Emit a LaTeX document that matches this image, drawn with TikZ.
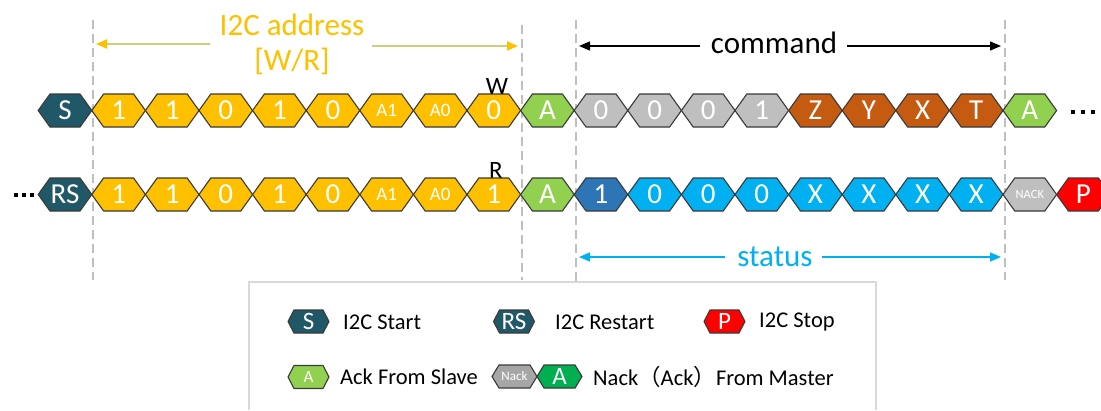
\documentclass[tikz,border=0pt]{standalone}
\usepackage{fontspec}
\setmainfont{Carlito}
\newfontfamily\cjk{Noto Sans CJK SC}
\usetikzlibrary{arrows.meta}
\definecolor{cteal}{HTML}{215868}
\definecolor{cyel}{HTML}{FFC000}
\definecolor{cgreen}{HTML}{92D050}
\definecolor{cdgreen}{HTML}{00B050}
\definecolor{cgray}{HTML}{BFBFBF}
\definecolor{cdgray}{HTML}{A6A6A6}
\definecolor{corange}{HTML}{C55A11}
\definecolor{cdblue}{HTML}{2E75B6}
\definecolor{clblue}{HTML}{00B0F0}
\definecolor{cred}{HTML}{FF0000}
\definecolor{hexdraw}{HTML}{3A3A3A}
\definecolor{dashcol}{HTML}{BFBFBF}
\definecolor{addrline}{HTML}{C9D27A}
\definecolor{boxcol}{HTML}{D9D9D9}
\newcommand\hexnode[9]{%
  \draw[hexline, fill=#7] (#2-#4,#3) -- (#2-#4+#6,#3-#5) -- (#2+#4-#6,#3-#5) -- (#2+#4,#3) -- (#2+#4-#6,#3+#5) -- (#2-#4+#6,#3+#5) -- cycle;
  \node[#8] (#1) at (#2,#3) {#9};}
\begin{document}
\begin{tikzpicture}[x=1pt,y=-1pt,
  hexline/.style={draw=hexdraw, line width=1.1pt, line join=miter},
  hbig/.style={text=white, inner sep=0pt, font=\fontsize{29}{29}\selectfont},
  hmid/.style={text=white, inner sep=0pt, font=\fontsize{19}{19}\selectfont},
  hsml/.style={text=white, inner sep=0pt, font=\fontsize{12.5}{12.5}\selectfont},
  lbig/.style={text=white, inner sep=0pt, font=\fontsize{25}{25}\selectfont},
  lmid/.style={text=white, inner sep=0pt, font=\fontsize{17}{17}\selectfont},
  lsml/.style={text=white, inner sep=0pt, font=\fontsize{13}{13}\selectfont},
  legtxt/.style={anchor=west, inner sep=0pt, font=\fontsize{22.5}{22.5}\selectfont},
  bigtxt/.style={anchor=base, inner sep=0pt, font=\fontsize{31}{31}\selectfont},
  bitlbl/.style={inner sep=0pt, font=\fontsize{25}{25}\selectfont},
  dashln/.style={draw=dashcol, line width=2pt, dash pattern=on 9pt off 5pt},
  addrarr/.style={draw=addrline, line width=2pt, -{Triangle[length=11pt,width=9pt,color=cyel]}},
  cmdarr/.style={draw=black, line width=1.4pt, -{Triangle[length=11pt,width=9pt]}},
  statarr/.style={draw=clblue, line width=1.4pt, -{Triangle[length=11pt,width=9pt]}},
  dot/.style={rectangle, fill=black, inner sep=0pt, minimum size=4.4pt}]
\useasboundingbox (0,0) rectangle (1101,410);
\fill[white] (0,0) rectangle (1101,410);
% dashed guides
\draw[dashln] (92.5,20) -- (92.5,280);
\draw[dashln] (521.5,25) -- (521.5,280);
\draw[dashln] (575.5,20) -- (575.5,282);
\draw[dashln] (1005,20) -- (1005,280);
% top annotations
\node[bigtxt, text=cyel] (addr1) at (292,35) {I2C address};
\node[bigtxt, text=cyel] (addr2) at (292,70) {[W/R]};
\coordinate (addrLs) at (210,44); \coordinate (addrLe) at (96,44);
\coordinate (addrRs) at (372,46); \coordinate (addrRe) at (518,46);
\draw[addrarr] (addrLs) -- (addrLe);
\draw[addrarr] (addrRs) -- (addrRe);
\node[bigtxt] (cmd) at (774,53) {command};
\coordinate (cmdLs) at (700,46); \coordinate (cmdLe) at (579,46);
\coordinate (cmdRs) at (847,46); \coordinate (cmdRe) at (1001,46);
\draw[cmdarr] (cmdLs) -- (cmdLe);
\draw[cmdarr] (cmdRs) -- (cmdRe);
\node[bigtxt, text=clblue] (stat) at (775,266) {status};
\coordinate (stLs) at (725,257); \coordinate (stLe) at (579,257);
\coordinate (stRs) at (822,257); \coordinate (stRe) at (1001,257);
\draw[statarr] (stLs) -- (stLe);
\draw[statarr] (stRs) -- (stRe);
% W / R labels
\node[bitlbl] (wlbl) at (497,86) {W};
\node[bitlbl] (rlbl) at (496,170) {R};
% top row
\foreach \i/\c/\t/\s in {0/cteal/S/hbig, 1/cyel/1/hbig, 2/cyel/1/hbig, 3/cyel/0/hbig, 4/cyel/1/hbig, 5/cyel/0/hbig, 6/cyel/A1/hmid, 7/cyel/A0/hmid, 8/cyel/0/hbig, 9/cgreen/A/hbig, 10/cgray/0/hbig, 11/cgray/0/hbig, 12/cgray/0/hbig, 13/cgray/1/hbig, 14/corange/Z/hbig, 15/corange/Y/hbig, 16/corange/X/hbig, 17/corange/T/hbig, 18/cgreen/A/hbig}
{\pgfmathsetmacro\cx{65+\i*53.6}
 \hexnode{t\i}{\cx}{110.5}{26.8}{16.5}{11.8}{\c}{\s}{\t}}
% bottom row
\foreach \i/\c/\t/\s in {0/cteal/RS/hbig, 1/cyel/1/hbig, 2/cyel/1/hbig, 3/cyel/0/hbig, 4/cyel/1/hbig, 5/cyel/0/hbig, 6/cyel/A1/hmid, 7/cyel/A0/hmid, 8/cyel/1/hbig, 9/cgreen/A/hbig, 10/cdblue/1/hbig, 11/clblue/0/hbig, 12/clblue/0/hbig, 13/clblue/0/hbig, 14/clblue/X/hbig, 15/clblue/X/hbig, 16/clblue/X/hbig, 17/clblue/X/hbig, 18/cgray/NACK/hsml, 19/cred/P/hbig}
{\pgfmathsetmacro\cx{65+\i*53.6}
 \hexnode{b\i}{\cx}{194.5}{26.8}{16.5}{11.8}{\c}{\s}{\t}}
% dots
\node[dot] (d1) at (1073,112) {}; \node[dot] (d2) at (1083,112) {}; \node[dot] (d3) at (1093,112) {};
\node[dot] (e1) at (16,195) {}; \node[dot] (e2) at (24,195) {}; \node[dot] (e3) at (32,195) {};
% legend box
\draw[draw=boxcol, line width=1.5pt] (249,410) -- (249,282) -- (876,282) -- (876,410);
\hexnode{lS}{308.5}{321.5}{20.5}{11.5}{6}{cteal}{lbig}{S}
\node[legtxt] (lSt) at (343,322) {I2C Start};
\hexnode{lRS}{514}{321.5}{20.5}{11.5}{6}{cteal}{lbig}{RS}
\node[legtxt] (lRSt) at (555,322) {I2C Restart};
\hexnode{lP}{724.5}{321.5}{20.5}{11.5}{6}{cred}{lbig}{P}
\node[legtxt] (lPt) at (759,322) {I2C Stop};
\hexnode{lA}{308.5}{377}{20.5}{11.5}{6}{cgreen}{lmid}{A}
\node[legtxt] (lAt) at (340,377) {Ack From Slave};
\hexnode{lN}{514.5}{376.5}{22.5}{11.5}{7}{cdgray}{lsml}{Nack}
\hexnode{lA2}{559.5}{376.5}{22.5}{11.5}{7}{cdgreen}{lbig}{A}
\node[legtxt] (lNt) at (593,377) {Nack{\cjk （}Ack{\cjk ）}From Master};
\end{tikzpicture}
\end{document}
